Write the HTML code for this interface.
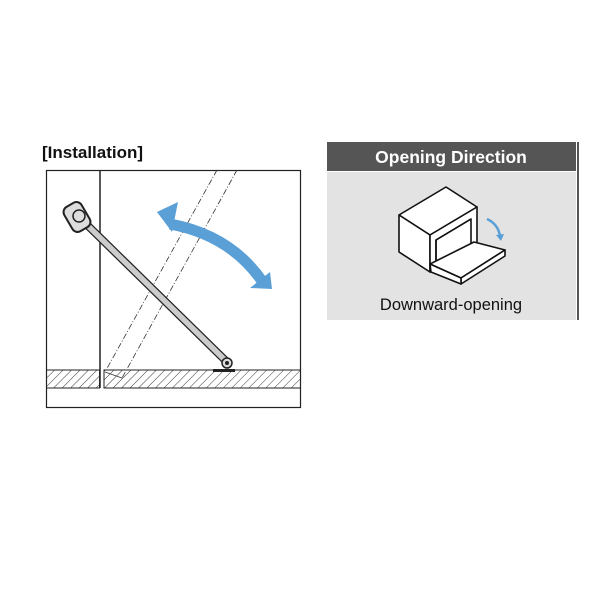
<!DOCTYPE html>
<html><head><style>body{margin:0;background:#fff;width:600px;height:600px;overflow:hidden}</style></head>
<body>
<svg width="600" height="600" viewBox="0 0 600 600" xmlns="http://www.w3.org/2000/svg">
<defs>
<pattern id="h" width="6" height="6" patternUnits="userSpaceOnUse" patternTransform="rotate(45)">
<line x1="0" y1="0" x2="0" y2="6" stroke="#222" stroke-width="0.9"/></pattern>
</defs>
<text x="42" y="158" font-family="Liberation Sans, sans-serif" font-weight="bold" font-size="17" fill="#111">[Installation]</text>
<rect x="46.5" y="170.5" width="254" height="237" fill="none" stroke="#222" stroke-width="1.2"/>
<line x1="100" y1="170" x2="100" y2="388" stroke="#222" stroke-width="1.5"/>
<rect x="46.5" y="370" width="53" height="18" fill="url(#h)" stroke="#222"/>
<rect x="104" y="370" width="196.5" height="18" fill="url(#h)" stroke="#222"/>
<line x1="217" y1="170" x2="105" y2="372" stroke="#333" stroke-width="0.8" stroke-dasharray="6,2,1,2"/>
<line x1="237" y1="170" x2="122" y2="378" stroke="#333" stroke-width="0.8" stroke-dasharray="6,2,1,2"/>
<line x1="105" y1="372" x2="122" y2="378" stroke="#333" stroke-width="0.8"/>
<line x1="79" y1="217" x2="227" y2="362" stroke="#222" stroke-width="8" stroke-linecap="round"/>
<line x1="79" y1="217" x2="227" y2="362" stroke="#ccc" stroke-width="5.5" stroke-linecap="round"/>
<rect x="213" y="369" width="22" height="3" fill="#222"/>
<circle cx="227" cy="363" r="5" fill="#ddd" stroke="#222" stroke-width="1.5"/>
<circle cx="227" cy="363" r="2" fill="#222"/>
<rect x="67" y="203" width="20" height="28" rx="6" fill="#ddd" stroke="#222" stroke-width="2" transform="rotate(-30 77 217)"/>
<circle cx="79" cy="216" r="6" fill="#ddd" stroke="#222" stroke-width="1.5"/>
<path d="M170 224 Q230 235 262 281" fill="none" stroke="#5a9fd6" stroke-width="11"/>
<polygon points="157,212 178,202 172,232" fill="#5a9fd6"/>
<polygon points="272,289 250,288 270,272" fill="#5a9fd6"/>
<rect x="327" y="142" width="249" height="29" fill="#555"/>
<rect x="577" y="142" width="2" height="178" fill="#555"/>
<rect x="327" y="172" width="249" height="148" fill="#e3e3e3"/>
<text x="451" y="163" text-anchor="middle" font-family="Liberation Sans, sans-serif" font-weight="bold" font-size="17.5" fill="#fff">Opening Direction</text>
<text x="451" y="310" text-anchor="middle" font-family="Liberation Sans, sans-serif" font-size="16.5" fill="#111">Downward-opening</text>
<g fill="#fff" stroke="#111" stroke-width="1.6" stroke-linejoin="round">
<polygon points="399,215 446,187 477,207 430,235"/>
<polygon points="399,215 430,235 430,272 399,252"/>
<polygon points="430,235 477,207 477,245 430,272"/>
<polygon points="436,240 471,219 471,245 436,266" fill="#fff"/>
<polyline points="436,266 436,240 471,219" fill="none"/>
<polygon points="430,264 474,242 505,250 461,278"/>
<polygon points="461,278 505,250 505,256 461,284"/>
<polygon points="430,264 461,278 461,284 431,272"/>
</g>
<path d="M487 219 Q498 224 500 236" fill="none" stroke="#5a9fd6" stroke-width="2.5"/>
<polygon points="496,235 504,234 501,241" fill="#5a9fd6"/>
</svg>
</body></html>
